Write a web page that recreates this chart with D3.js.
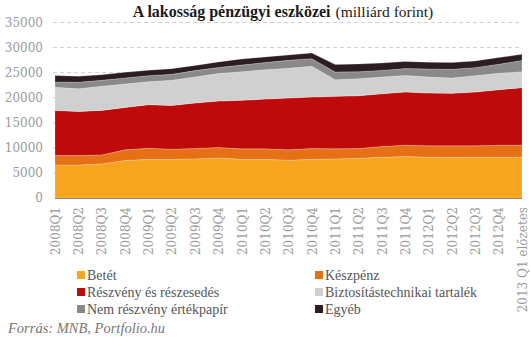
<!DOCTYPE html>
<html><head><meta charset="utf-8">
<script src="https://cdn.jsdelivr.net/npm/d3@7"></script>
<style>body{margin:0;background:#fff}svg{display:block}</style>
</head><body>
<svg id="c" width="531" height="342"></svg>
<script>
const categories = ["2008Q1","2008Q2","2008Q3","2008Q4","2009Q1","2009Q2","2009Q3","2009Q4","2010Q1","2010Q2","2010Q3","2010Q4","2011Q1","2011Q2","2011Q3","2011Q4","2012Q1","2012Q2","2012Q3","2012Q4","2013 Q1 előzetes"];
const betet      = [6600,6600,6800,7470,7730,7730,7800,8000,7730,7730,7530,7730,7800,7930,8130,8270,8130,8070,8130,8130,8130];
const keszpenz   = [1870,1870,1800,2130,2200,2000,2070,2070,2070,2070,2070,2130,2000,1930,2130,2270,2270,2330,2270,2400,2400];
const reszveny   = [9000,8800,8870,8470,8670,8730,9070,9270,9670,9930,10330,10270,10470,10530,10530,10600,10530,10470,10730,11070,11470];
const biztositas = [4600,4530,4800,4670,4600,5000,5200,5470,5730,5870,5930,6130,3330,3400,3330,3270,3200,3070,3270,3270,3200];
const nemReszveny= [1070,1270,1200,1200,1200,1200,1270,1200,1330,1400,1600,1530,1530,1400,1330,1400,1600,1730,1600,1800,2200];
const egyeb      = [1270,1200,1130,1130,1070,1130,1000,1130,1200,1130,1070,1130,1470,1530,1470,1400,1330,1330,1330,1330,1270];
const seriesNames = ["Betét","Készpénz","Részvény és részesedés","Biztosítástechnikai tartalék","Nem részvény értékpapír","Egyéb"];
const seriesColors = ["#F7A51E","#E57016","#BE0A0A","#D0D0D0","#898989","#2B1D23"];
const yTicks = [0,5000,10000,15000,20000,25000,30000,35000];

const seriesData = [betet,keszpenz,reszveny,biztositas,nemReszveny,egyeb];
const rows = categories.map((c,i)=>{const r={cat:c}; seriesNames.forEach((n,j)=>r[n]=seriesData[j][i]); return r;});
const stack = d3.stack().keys(seriesNames)(rows);

const svg = d3.select("#c");
const L=55, R=522, T=22.5, B=198;
const x = d3.scalePoint().domain(categories).range([L,R]);
const y = d3.scaleLinear().domain([0,35000]).range([B,T]);

// gridlines
svg.append("g").selectAll("line").data(yTicks.filter(d=>d>0)).join("line")
  .attr("x1",L-2).attr("x2",R).attr("y1",d=>y(d)).attr("y2",d=>y(d))
  .attr("stroke","#cfcfcf").attr("stroke-dasharray","4,3").attr("stroke-width",1);

// areas
const area = d3.area().x(d=>x(d.data.cat)).y0(d=>y(d[0])).y1(d=>y(d[1]));
svg.append("g").selectAll("path").data(stack).join("path")
  .attr("d",area).attr("fill",(d,i)=>seriesColors[i])
  .attr("stroke","#fff").attr("stroke-opacity",0.35).attr("stroke-width",0.6);

// baseline axis
svg.append("line").attr("x1",L).attr("x2",R).attr("y1",B+0.5).attr("y2",B+0.5).attr("stroke","#888").attr("stroke-width",1.2);

// y axis labels
const yAxis = d3.axisLeft(y).tickValues(yTicks).tickSize(0).tickPadding(0).tickFormat(d3.format("d"));
const gy = svg.append("g").attr("transform",`translate(${43},0)`).call(yAxis);
gy.select(".domain").remove();
gy.selectAll("text").attr("fill","#9a9a9a").style("font-family","DejaVu Serif").style("font-size","12px");

// x axis labels
const xAxis = d3.axisBottom(x).tickSize(0).tickPadding(0);
const gx = svg.append("g").attr("transform",`translate(0,${B})`).call(xAxis);
gx.select(".domain").remove();
gx.selectAll("text").attr("fill","#9a9a9a").style("font-family","DejaVu Serif").style("font-size","12px")
  .attr("text-anchor","end").attr("transform","rotate(-90)").attr("x",-9).attr("y",0).attr("dy","0.35em");

// title
const title = svg.append("text").attr("x",283).attr("y",17).attr("text-anchor","middle")
  .style("font-family","Liberation Serif").attr("fill","#1a1a1a");
title.append("tspan").style("font-weight","bold").style("font-size","16px").text("A lakosság pénzügyi eszközei");
title.append("tspan").style("font-size","15.5px").attr("dx",5).text("(milliárd forint)");

// legend
const legendCols=[77,315], legendRows=[275,292,309];
const lg = svg.append("g").selectAll("g").data(seriesNames).join("g")
  .attr("transform",(d,i)=>`translate(${legendCols[i%2]},${legendRows[Math.floor(i/2)]})`);
lg.append("rect").attr("x",0).attr("y",-4).attr("width",8).attr("height",8).attr("fill",(d,i)=>seriesColors[i]);
lg.append("text").attr("x",10).attr("y",0).attr("dy","0.35em").text(d=>d)
  .style("font-family","Liberation Serif").style("font-size","14px").attr("fill","#555");

// source
svg.append("text").attr("x",8).attr("y",333).text("Forrás: MNB, Portfolio.hu")
  .style("font-family","Liberation Serif").style("font-style","italic").style("font-size","14.5px").attr("fill","#777");
</script>
</body></html>
